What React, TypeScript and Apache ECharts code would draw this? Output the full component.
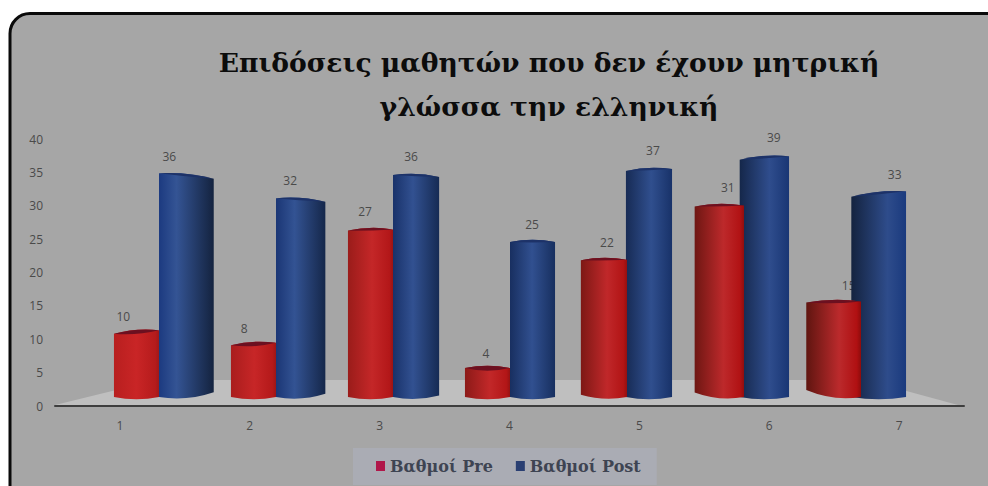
import React, { useEffect, useRef } from "react";
import * as echarts from "echarts";

const titleLines = ["Επιδόσεις μαθητών που δεν έχουν μητρική", "γλώσσα την ελληνική"];
const categories = ["1", "2", "3", "4", "5", "6", "7"];
const preScores = [10, 8, 27, 4, 22, 31, 15];
const postScores = [36, 32, 36, 25, 37, 39, 33];
const preName = "Βαθμοί Pre";
const postName = "Βαθμοί Post";
const serifFont = '"DejaVu Serif", serif';
const sansFont = '"Open Sans", "Liberation Sans", sans-serif';

const mix = (a: string, b: string, t: number) => echarts.color.lerp(t, [a, b]) as string;

type Part = { bars: "left" | "right" | "all"; captions: boolean };

// Draws one pseudo-3D cylinder; the columns fan outward from the middle category.
function cylinder(kind: "pre" | "post", part: Part) {
  return (params: any, api: any) => {
    const index = api.value(0) as number;
    const value = api.value(1) as number;
    const i = index - 3;
    const drawBar =
      part.bars === "all" || (part.bars === "left" ? i <= 0 : i > 0);

    const [c, top] = api.coord([index, value]);
    const [, zero] = api.coord([index, 0]);
    const base = zero + 5; // the foot of a column hangs slightly below its zero level
    const band = api.size([1, 0])[0] as number;
    const half = band * 0.385;
    const flare = band * 0.0092 * i * i;

    let xL: number, xR: number, yL: number, yR: number, botL = base, botR = base;
    if (kind === "pre") {
      xL = c - half - (i > 0 ? flare : 0);
      xR = c;
      yL = top - (i < 0 ? 0.6 * i : -0.2 * i);
      yR = top + (i < 0 ? 0.6 * i : -0.2 * i);
      if (i > 0) botL = base - i * 2.3;
    } else {
      xL = c - (i > 0 ? flare : 0);
      xR = c + half + (i < 0 ? flare : 0);
      yL = top + 0.9 * i;
      yR = top - 0.9 * i;
      if (i < 0) botR = base + i * 1.6;
    }
    const mid = (xL + xR) / 2;
    const sag = 4.5;
    const bump = 2.2;
    const apexY = (yL + yR) / 2 - bump;
    const capDrop = Math.max(0.8, 6.5 * (1 - value / 24));

    const body =
      `M${xL} ${yL}Q${mid} ${apexY - bump} ${xR} ${yR}` +
      `L${xR} ${botR}Q${mid} ${Math.max(botL, botR) + sag} ${xL} ${botL}Z`;
    const cap =
      `M${xL} ${yL}Q${mid} ${apexY - bump} ${xR} ${yR}` +
      `Q${mid} ${(yL + yR) / 2 + capDrop} ${xL} ${yL}Z`;

    const t = (i + 3) / 6;
    const fill =
      kind === "pre"
        ? new echarts.graphic.LinearGradient(0, 0, 1, 0, [
            { offset: 0, color: mix("#b81f1f", "#5f1510", t) },
            { offset: 0.5 + 0.1 * t, color: mix("#c92526", "#bb2a2c", t) },
            { offset: 0.92, color: mix("#b51b1c", "#b01012", t) },
            { offset: 1, color: mix("#a01818", "#8e0c0c", t) },
          ])
        : new echarts.graphic.LinearGradient(0, 0, 1, 0, [
            { offset: 0, color: mix("#1c3a80", "#14233f", t) },
            { offset: 0.32 + 0.34 * t, color: mix("#345494", "#2e4c8b", t) },
            { offset: 1, color: mix("#14233f", "#1a3a7e", t) },
          ]);
    const capFill = kind === "pre" ? "#6c1020" : "#1d3268";

    // Value captions sit a little inside the axis category centre and rise with the column.
    const labelX = c + 3.9 * i + (kind === "pre" ? -24 : 22);
    const caption = {
      type: "text",
      silent: true,
      style: {
        text: String(value),
        x: labelX,
        y: top - 14 - 0.16 * value,
        textAlign: "center",
        textVerticalAlign: "middle",
        fill: "#4a4a4a",
        font: `12px ${sansFont}`,
      },
    };

    const children: any[] = [];
    if (drawBar) {
      children.push(
        { type: "path", shape: { pathData: body }, style: { fill } },
        { type: "path", shape: { pathData: cap }, style: { fill: capFill } }
      );
    }
    if (part.captions) children.push(caption);
    return { type: "group", children };
  };
}

const pairs = (values: number[]) => values.map((v, idx) => [idx, v]);

export default function App() {
  const ref = useRef<HTMLDivElement>(null);

  useEffect(() => {
    document.body.style.margin = "0";
    const chart = echarts.init(ref.current!, undefined, { renderer: "svg" });
    chart.setOption({
      animation: false,
      backgroundColor: "#ffffff",
      title: {
        text: titleLines.join("\n"),
        left: 544,
        top: 35,
        textAlign: "center",
        textStyle: {
          fontFamily: serifFont,
          fontWeight: "bold",
          fontSize: 26.6,
          lineHeight: 44,
          color: "#0c0c0c",
        },
      },
      legend: {
        data: [preName, postName],
        left: 353,
        top: 448,
        padding: [10, 16, 11, 23],
        itemWidth: 9,
        itemHeight: 10,
        itemGap: 23,
        icon: "rect",
        backgroundColor: "#aaacb4",
        textStyle: {
          fontFamily: serifFont,
          fontWeight: "bold",
          fontSize: 16,
          color: "#3e4452",
        },
      },
      grid: [
        { left: 55, right: 24, top: 139, bottom: 80 },
        { left: 100.5, right: 68.5, top: 139, bottom: 80 },
      ],
      xAxis: [
        {
          type: "category",
          gridIndex: 0,
          data: categories,
          axisTick: { show: false },
          axisLine: { lineStyle: { color: "#3e3e3e", width: 2 } },
          axisLabel: { color: "#4a4a4a", fontFamily: sansFont, fontSize: 12, margin: 13 },
        },
        { type: "category", gridIndex: 1, data: categories, show: false },
      ],
      yAxis: [
        {
          type: "value",
          gridIndex: 0,
          min: 0,
          max: 40,
          interval: 5,
          axisLine: { show: false },
          axisTick: { show: false },
          splitLine: { show: false },
          axisLabel: { color: "#4a4a4a", fontFamily: sansFont, fontSize: 12, margin: 12 },
        },
        // The columns stand on a floor raised above the axis line, on a tighter scale.
        { type: "value", gridIndex: 1, min: -2.33, max: 42.17, show: false },
      ],
      graphic: [
        {
          type: "rect",
          z: -10,
          shape: { x: 10, y: 13.5, width: 1100, height: 600, r: 20 },
          style: { fill: "#a6a6a6", stroke: "#0a0a0a", lineWidth: 3 },
        },
        {
          type: "polygon",
          z: -5,
          shape: { points: [[55, 405], [157, 380], [866, 380], [958, 405]] },
          style: { fill: "#bfbfbf" },
        },
      ],
      series: [
        // Pre columns left of centre stack under the Post columns; all Pre captions sit here too.
        {
          type: "custom",
          name: preName,
          xAxisIndex: 1,
          yAxisIndex: 1,
          z: 2,
          itemStyle: { color: "#b0174a" },
          encode: { x: 0, y: 1 },
          data: pairs(preScores),
          renderItem: cylinder("pre", { bars: "left", captions: true }),
        },
        {
          type: "custom",
          name: postName,
          xAxisIndex: 1,
          yAxisIndex: 1,
          z: 3,
          itemStyle: { color: "#2a3f72" },
          encode: { x: 0, y: 1 },
          data: pairs(postScores),
          renderItem: cylinder("post", { bars: "all", captions: true }),
        },
        // Pre columns right of centre stack over the Post columns.
        {
          type: "custom",
          name: preName,
          xAxisIndex: 1,
          yAxisIndex: 1,
          z: 4,
          itemStyle: { color: "#b0174a" },
          encode: { x: 0, y: 1 },
          data: pairs(preScores),
          renderItem: cylinder("pre", { bars: "right", captions: false }),
        },
      ],
    });
    return () => chart.dispose();
  }, []);

  return <div ref={ref} style={{ width: 988, height: 486, overflow: "hidden" }} />;
}
